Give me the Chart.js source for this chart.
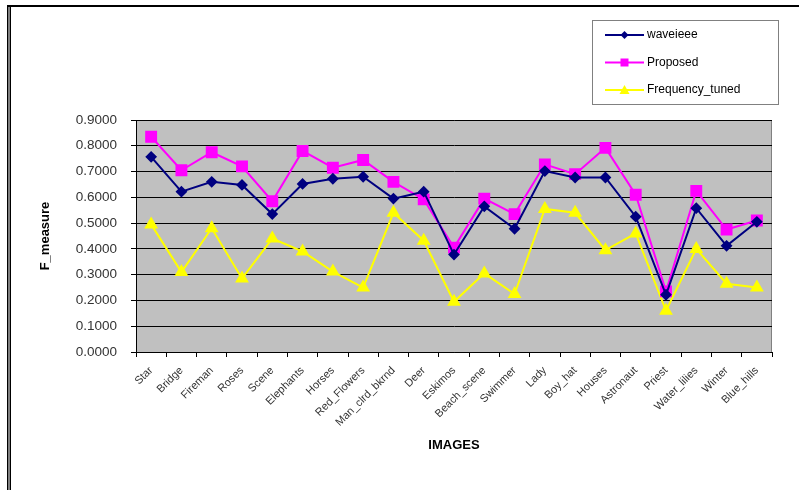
<!DOCTYPE html>
<html>
<head>
<meta charset="utf-8">
<script src="https://cdn.jsdelivr.net/npm/chart.js@4/dist/chart.umd.min.js"></script>
<style>
  html, body { margin: 0; padding: 0; background: #fff; }
  #wrap { width: 799px; height: 490px; position: relative; }
</style>
</head>
<body>
<div id="wrap"><canvas id="chart"></canvas></div>
<script>
const images = ['Star', 'Bridge', 'Fireman', 'Roses', 'Scene', 'Elephants', 'Horses', 'Red_Flowers',
    'Man_clrd_bkrnd', 'Deer', 'Eskimos', 'Beach_scene', 'Swimmer', 'Lady', 'Boy_hat', 'Houses',
    'Astronaut', 'Priest', 'Water_lilies', 'Winter', 'Blue_hills'];

const waveieee = [0.757, 0.622, 0.660, 0.648, 0.535, 0.652, 0.672, 0.680, 0.595, 0.622, 0.378,
    0.565, 0.478, 0.702, 0.677, 0.677, 0.525, 0.222, 0.558, 0.412, 0.505];
const proposed = [0.835, 0.705, 0.775, 0.720, 0.585, 0.780, 0.715, 0.745, 0.660, 0.592, 0.405,
    0.595, 0.535, 0.728, 0.690, 0.792, 0.610, 0.235, 0.625, 0.475, 0.510];
const frequencyTuned = [0.495, 0.310, 0.480, 0.285, 0.440, 0.390, 0.312, 0.250, 0.540, 0.432, 0.195,
    0.305, 0.225, 0.555, 0.540, 0.395, 0.460, 0.160, 0.400, 0.265, 0.250];

const yMin = 0, yMax = 0.9, yStep = 0.1;

const font = "'Liberation Sans', Arial, sans-serif";

// gray plot background, frame lines and the boxed legend
const decor = {
    id: 'decor',
    beforeDraw(chart) {
        const ctx = chart.ctx, a = chart.chartArea;
        ctx.save();
        ctx.fillStyle = '#fff';
        ctx.fillRect(0, 0, chart.width, chart.height);
        ctx.fillStyle = '#c0c0c0';
        ctx.fillRect(a.left, a.top, a.right - a.left, a.bottom - a.top);
        ctx.strokeStyle = '#808080';
        ctx.lineWidth = 1;
        ctx.beginPath();
        ctx.moveTo(a.left, a.top + 0.5);
        ctx.lineTo(a.right - 0.5, a.top + 0.5);
        ctx.lineTo(a.right - 0.5, a.bottom);
        ctx.stroke();
        ctx.restore();
    },
    afterDraw(chart) {
        const ctx = chart.ctx;
        ctx.save();
        // outer frame
        ctx.fillStyle = '#000';
        ctx.fillRect(7, 5, chart.width - 7, 2);
        ctx.fillRect(7, 5, 1.5, chart.height - 5);
        ctx.fillRect(9.5, 7, 1.5, chart.height - 7);

        // legend
        const bx = 592, by = 20, bw = 186, bh = 84;
        ctx.fillStyle = '#fff';
        ctx.fillRect(bx, by, bw, bh);
        ctx.strokeStyle = '#808080';
        ctx.lineWidth = 1;
        ctx.strokeRect(bx + 0.5, by + 0.5, bw, bh);
        ctx.font = '12px ' + font;
        ctx.textBaseline = 'middle';
        chart.data.datasets.forEach((ds, i) => {
            const y = 35 + i * 27.5;
            ctx.strokeStyle = ds.borderColor;
            ctx.lineWidth = 2;
            ctx.beginPath();
            ctx.moveTo(605, y);
            ctx.lineTo(644, y);
            ctx.stroke();
            ctx.fillStyle = ds.pointBackgroundColor;
            ctx.beginPath();
            if (ds.pointStyle === 'rectRot') {
                ctx.moveTo(624.5, y - 4); ctx.lineTo(628.5, y); ctx.lineTo(624.5, y + 4); ctx.lineTo(620.5, y);
            } else if (ds.pointStyle === 'rect') {
                ctx.rect(620.5, y - 4, 8, 8);
            } else {
                ctx.moveTo(624.5, y - 5); ctx.lineTo(629.5, y + 4); ctx.lineTo(619.5, y + 4);
            }
            ctx.closePath();
            ctx.fill();
            ctx.fillStyle = '#000';
            ctx.fillText(ds.label, 647, y);
        });
        ctx.restore();
    }
};

new Chart(document.getElementById('chart'), {
    type: 'line',
    data: {
        labels: images,
        datasets: [{
            label: 'waveieee',
            data: waveieee,
            borderColor: '#000080',
            backgroundColor: '#000080',
            pointBackgroundColor: '#000080',
            pointBorderColor: '#000080',
            pointStyle: 'rectRot',
            pointRadius: 4.5,
            borderWidth: 2,
            tension: 0
        }, {
            label: 'Proposed',
            data: proposed,
            borderColor: '#ff00ff',
            backgroundColor: '#ff00ff',
            pointBackgroundColor: '#ff00ff',
            pointBorderColor: '#ff00ff',
            pointStyle: 'rect',
            pointRadius: 7,
            borderWidth: 2,
            tension: 0
        }, {
            label: 'Frequency_tuned',
            data: frequencyTuned,
            borderColor: '#ffff00',
            backgroundColor: '#ffff00',
            pointBackgroundColor: '#ffff00',
            pointBorderColor: '#ffff00',
            pointStyle: 'triangle',
            pointRadius: 6,
            borderWidth: 2,
            tension: 0
        }]
    },
    options: {
        responsive: true,
        maintainAspectRatio: false,
        animation: false,
        devicePixelRatio: 1,
        layout: { padding: { left: 10, right: 27, top: 120, bottom: 0 } },
        plugins: {
            legend: { display: false },
            tooltip: { enabled: false }
        },
        scales: {
            x: {
                offset: true,
                grid: { display: true, drawOnChartArea: false, drawTicks: true, tickLength: 5, color: '#000', offset: true },
                border: { display: true, color: '#000', width: 1 },
                ticks: {
                    autoSkip: false, minRotation: 45, maxRotation: 45, padding: 7,
                    color: '#333', font: { family: font, size: 11 }
                },
                title: {
                    display: true, text: 'IMAGES', color: '#000',
                    font: { family: font, size: 13, weight: 'bold' },
                    padding: { top: 0, bottom: 37 }
                },
                afterFit(scale) { scale.height = 138; }
            },
            y: {
                min: yMin, max: yMax,
                grid: { color: '#000', lineWidth: 1, tickLength: 5, drawTicks: true },
                border: { display: true, color: '#000', width: 1 },
                ticks: {
                    stepSize: yStep, padding: 14, color: '#333',
                    font: { family: font, size: 13.5 },
                    callback: v => Number(v).toFixed(4)
                },
                title: {
                    display: true, text: 'F_measure', color: '#000',
                    font: { family: font, size: 13, weight: 'bold' },
                    padding: { top: 28, bottom: 0 }
                },
                afterFit(scale) { scale.width = 126; }
            }
        }
    },
    plugins: [decor]
});
</script>
</body>
</html>
